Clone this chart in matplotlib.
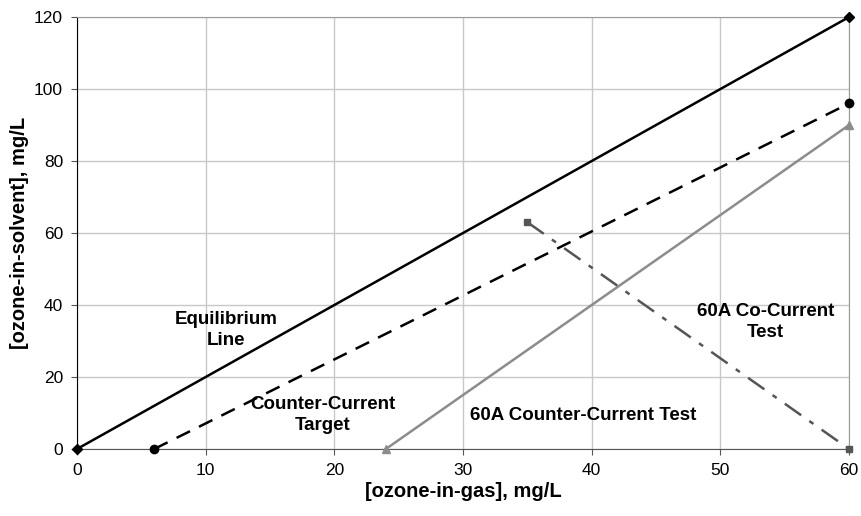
import matplotlib.pyplot as plt

plt.rcParams['font.family'] = ['Liberation Sans', 'DejaVu Sans']

# equilibrium line
eq_x = [0, 60]
eq_y = [0, 120]
# counter-current target
cct_x = [6, 60]
cct_y = [0, 96]
# 60A counter-current test
cc_test_x = [24, 60]
cc_test_y = [0, 90]
# 60A co-current test
co_test_x = [35, 60]
co_test_y = [63, 0]

fig = plt.figure(figsize=(8.62, 5.16), dpi=100)
ax = fig.add_axes([0.0893, 0.1298, 0.8957, 0.8372])

ax.plot(eq_x, eq_y, color='black', lw=1.8, marker='D', ms=5, clip_on=False, zorder=5)
ax.plot(cct_x, cct_y, color='black', lw=1.8, ls=(0, (6, 4)), marker='o', ms=6, clip_on=False, zorder=5)
ax.plot(cc_test_x, cc_test_y, color='#8c8c8c', lw=1.8, marker='^', ms=6, clip_on=False, zorder=5)
ax.plot(co_test_x, co_test_y, color='#555555', lw=1.8, ls=(0, (8, 4, 2, 4)), marker='s', ms=4, clip_on=False, zorder=5)

ax.set_xlim(0, 60)
ax.set_ylim(0, 120)
ax.set_xticks(range(0, 61, 10))
ax.set_yticks(range(0, 121, 20))
ax.grid(True, color='#c8c8c8', lw=1)
ax.set_axisbelow(True)

for side in ['top', 'right']:
    ax.spines[side].set_color('#999999')
ax.spines['left'].set_color('black')
ax.spines['bottom'].set_color('#555555')
ax.tick_params(labelsize=12.5, length=4, color='#555555', pad=6)

ax.set_xlabel('[ozone-in-gas], mg/L', fontsize=14.5, fontweight='bold', labelpad=3)
ax.set_ylabel('[ozone-in-solvent], mg/L', fontsize=14.5, fontweight='bold', labelpad=4)

kw = dict(fontsize=13.5, fontweight='bold', ha='center', va='center', linespacing=1.3)
ax.text(11.6, 33, 'Equilibrium\nLine', **kw)
ax.text(19.1, 9.4, 'Counter-Current\nTarget', **kw)
ax.text(39.3, 9.2, '60A Counter-Current Test', **kw)
ax.text(53.5, 35.3, '60A Co-Current\nTest', **kw)

plt.savefig('out.png', dpi=100)
